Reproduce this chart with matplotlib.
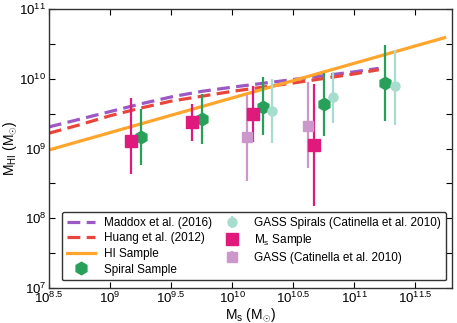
import numpy as np
import matplotlib
matplotlib.use('Agg')
import matplotlib.pyplot as plt
from matplotlib.ticker import FixedLocator, FuncFormatter, NullLocator

plt.rcParams['font.family'] = ['Liberation Sans', 'DejaVu Sans']
plt.rcParams['mathtext.fontset'] = 'custom'
plt.rcParams['mathtext.rm'] = 'Liberation Sans'
plt.rcParams['mathtext.it'] = 'Liberation Sans:italic'
plt.rcParams['font.size'] = 8.5

# scaling relations (log Ms -> log MHI)
maddox_ms = [8.5, 8.75, 9.0, 9.25, 9.5, 9.75, 10.0, 10.5, 11.0, 11.2]
maddox_hi = [9.31, 9.42, 9.53, 9.64, 9.74, 9.82, 9.88, 9.99, 10.10, 10.15]
huang_ms = [8.5, 8.75, 9.0, 9.25, 9.5, 9.75, 10.0, 10.5, 11.0, 11.2]
huang_hi = [9.22, 9.34, 9.47, 9.58, 9.68, 9.75, 9.82, 9.94, 10.07, 10.13]
hisamp_ms = [8.5, 11.74]
hisamp_hi = [8.98, 10.59]

# binned samples: log Ms, log MHI, upper, lower
spiral_ms = [9.25, 9.75, 10.25, 10.75, 11.25]
spiral_hi = [9.16, 9.42, 9.60, 9.64, 9.94]
spiral_up = [9.57, 9.78, 10.02, 10.09, 10.48]
spiral_lo = [8.76, 9.06, 9.19, 9.18, 9.40]

gsp_ms = [10.33, 10.83, 11.33]
gsp_hi = [9.54, 9.74, 9.89]
gsp_up = [10.00, 10.10, 10.41]
gsp_lo = [9.08, 9.37, 9.34]

mss_ms = [9.17, 9.67, 10.17, 10.67]
mss_hi = [9.11, 9.38, 9.50, 9.05]
mss_up = [9.73, 9.64, 9.89, 9.93]
mss_lo = [8.63, 9.11, 9.10, 8.18]

gass_ms = [10.12, 10.62]
gass_hi = [9.16, 9.33]
gass_up = [9.77, 9.96]
gass_lo = [8.53, 8.72]


def errs(hi, up, lo):
    hi = np.array(hi); up = np.array(up); lo = np.array(lo)
    return [10**hi - 10**lo, 10**up - 10**hi]


fig = plt.figure(figsize=(4.57, 3.23), dpi=100)
ax = fig.add_axes([0.107, 0.108, 0.882, 0.864])

l1, = ax.plot(10**np.array(maddox_ms), 10**np.array(maddox_hi), color='#9b59c4',
              lw=2.3, dashes=(4, 2), label='Maddox et al. (2016)')
l2, = ax.plot(10**np.array(huang_ms), 10**np.array(huang_hi), color='#e8453c',
              lw=2.3, dashes=(4, 2), label='Huang et al. (2012)')
l3, = ax.plot(10**np.array(hisamp_ms), 10**np.array(hisamp_hi), color='#ffa52c',
              lw=2.3, label='HI Sample')

e1 = ax.errorbar(10**np.array(spiral_ms), 10**np.array(spiral_hi), yerr=errs(spiral_hi, spiral_up, spiral_lo),
                 fmt='h', color='#27a05a', ms=9, elinewidth=1.6, capsize=0, label='Spiral Sample')
e2 = ax.errorbar(10**np.array(gsp_ms), 10**np.array(gsp_hi), yerr=errs(gsp_hi, gsp_up, gsp_lo),
                 fmt='o', color='#a6ddcf', ms=6.5, elinewidth=1.6, capsize=0,
                 label='GASS Spirals (Catinella et al. 2010)')
e3 = ax.errorbar(10**np.array(mss_ms), 10**np.array(mss_hi), yerr=errs(mss_hi, mss_up, mss_lo),
                 fmt='s', color='#e0197d', ms=9, elinewidth=1.6, capsize=0, label='M$_{\\rm s}$ Sample')
e4 = ax.errorbar(10**np.array(gass_ms), 10**np.array(gass_hi), yerr=errs(gass_hi, gass_up, gass_lo),
                 fmt='s', color='#cc98cb', ms=6.5, elinewidth=1.6, capsize=0,
                 label='GASS (Catinella et al. 2010)')

ax.set_xscale('log')
ax.set_yscale('log')
ax.set_xlim(10**8.5, 10**11.8)
ax.set_ylim(1e7, 1e11)

xt = 10**np.arange(8.5, 11.6, 0.5)
ax.xaxis.set_major_locator(FixedLocator(xt))
ax.xaxis.set_minor_locator(NullLocator())
ax.xaxis.set_major_formatter(FuncFormatter(
    lambda v, p: '$10^{%g}$' % round(np.log10(v), 1)))
yt = 10**np.arange(7, 11.1, 0.5)
ax.yaxis.set_major_locator(FixedLocator(yt))
ax.yaxis.set_minor_locator(NullLocator())
ax.yaxis.set_major_formatter(FuncFormatter(
    lambda v, p: '$10^{%d}$' % round(np.log10(v)) if abs(np.log10(v) - round(np.log10(v))) < 0.01 else ''))
ax.tick_params(direction='in', top=True, right=True, length=4, labelsize=9.5, pad=2)
for s in ax.spines.values():
    s.set_linewidth(1.0)
    s.set_color('#333333')

ax.set_xlabel('M$_{\\rm s}$ (M$_{\\odot}$)', fontsize=10, labelpad=0)
ax.set_ylabel('M$_{\\rm HI}$ (M$_{\\odot}$)', fontsize=10, labelpad=0)

leg = ax.legend(handles=[l1, l2, l3, e1, e2, e3, e4], ncol=2, loc='lower right',
                bbox_to_anchor=(0.985, 0.028), borderaxespad=0, numpoints=1, fontsize=8.5,
                handlelength=2.4, handletextpad=0.7, columnspacing=0.5, labelspacing=0.3,
                borderpad=0.4, fancybox=True, framealpha=1)
leg.get_frame().set_edgecolor('#333333')
leg.get_frame().set_boxstyle('round', pad=0, rounding_size=0.15)

fig.savefig('out.png', dpi=100)
